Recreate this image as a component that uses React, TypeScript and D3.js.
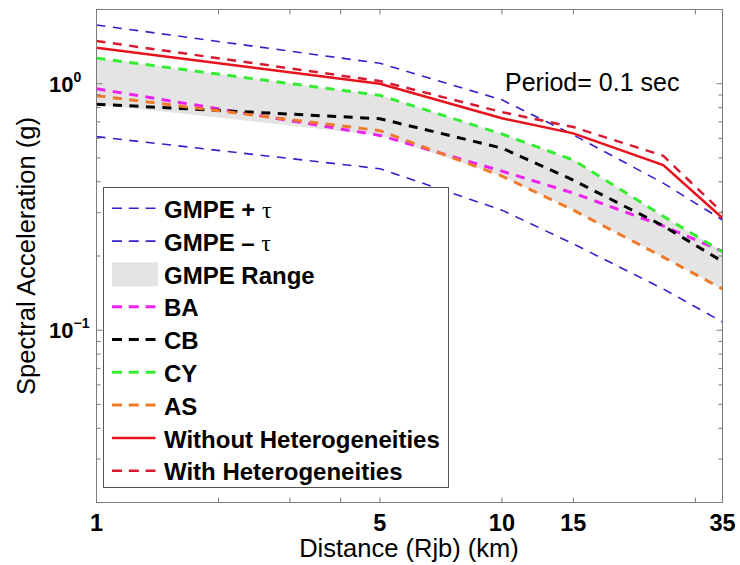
import React from 'react';
import * as d3 from 'd3';

// ---- data ----
const distances = [1, 5, 10, 15, 25, 35];
const gmpePlusTau = [1.73, 1.21, 0.86, 0.62, 0.395, 0.28];
const gmpeMinusTau = [0.61, 0.452, 0.307, 0.224, 0.147, 0.108];
const ba = [0.954, 0.617, 0.442, 0.36, 0.265, 0.209];
const cb = [0.826, 0.721, 0.548, 0.406, 0.265, 0.19];
const cy = [1.27, 0.897, 0.625, 0.49, 0.29, 0.208];
const as = [0.894, 0.645, 0.422, 0.307, 0.198, 0.147];
const withoutHet = [1.4, 1.0, 0.724, 0.629, 0.468, 0.285];
const withHet = [1.49, 1.025, 0.767, 0.667, 0.51, 0.3];

const xTickValues = [1, 2, 3, 4, 5, 10, 15, 30, 35];
const xTickLabels = ['1', '', '', '', '5', '10', '15', '', '35'];
const yMajorTicks = [0.1, 1];
const yMajorExponents = ['\u22121', '0'];
const xTitle = 'Distance (Rjb) (km)';
const yTitle = 'Spectral Acceleration (g)';
const periodLabel = 'Period= 0.1 sec';

type Entry = { key: string; label: string; tau?: string; values?: number[]; band?: boolean };
const entries: Entry[] = [
  { key: 'plus', label: 'GMPE + ', tau: '\u03C4', values: gmpePlusTau },
  { key: 'minus', label: 'GMPE \u2013 ', tau: '\u03C4', values: gmpeMinusTau },
  { key: 'range', label: 'GMPE Range', band: true },
  { key: 'ba', label: 'BA', values: ba },
  { key: 'cb', label: 'CB', values: cb },
  { key: 'cy', label: 'CY', values: cy },
  { key: 'as', label: 'AS', values: as },
  { key: 'without', label: 'Without Heterogeneities', values: withoutHet },
  { key: 'with', label: 'With Heterogeneities', values: withHet },
];

const styles: Record<string, { color: string; width: number; dash?: string }> = {
  plus: { color: '#3322cc', width: 1.6, dash: '9,7.5' },
  minus: { color: '#3322cc', width: 1.6, dash: '9,7.5' },
  range: { color: '#e4e4e4', width: 0 },
  ba: { color: '#ee22ee', width: 3, dash: '9,7.5' },
  cb: { color: '#000000', width: 3, dash: '9,7.5' },
  cy: { color: '#33ee33', width: 3, dash: '9,7.5' },
  as: { color: '#ee7a2a', width: 3, dash: '9,7.5' },
  without: { color: '#e8121c', width: 2.5 },
  with: { color: '#d81a30', width: 2.5, dash: '9,7.5' },
};

const W = 740;
const H = 565;
const L = 96.5, R = 722.5, T = 9.5, B = 502.5;
const FONT = '"Liberation Sans", Arial, Helvetica, sans-serif';

export default function App() {
  const x = d3.scaleLog().domain([1, 35]).range([L, R]);
  const y = d3.scaleLog().domain([0.02, 2]).range([B, T]);

  const line = d3
    .line<number>()
    .x((_, i) => x(distances[i]))
    .y((d) => y(d));

  const models = [ba, cb, cy, as];
  const area = d3
    .area<number>()
    .x((d) => x(d))
    .y0((_, i) => y(d3.min(models, (m) => m[i]) as number))
    .y1((_, i) => y(d3.max(models, (m) => m[i]) as number));

  const yTicks = y.ticks();
  const frame = '#7a7a7a';

  const legX = 103.5, legY = 187.5, legW = 345, legH = 300;
  const rowY0 = 209.3, rowStep = 32.8;

  return (
    <svg width={W} height={H} style={{ position: 'absolute', left: 0, top: 0, background: '#fff' }}>
      <rect x={0} y={0} width={W} height={H} fill="#fff" />
      <defs>
        <clipPath id="plotclip">
          <rect x={L} y={T} width={R - L} height={B - T} />
        </clipPath>
      </defs>
      <g clipPath="url(#plotclip)">
        <path d={area(distances) || ''} fill={styles.range.color} stroke="none" />
        {entries
          .filter((e) => e.values)
          .map((e) => (
            <path
              key={e.key}
              d={line(e.values as number[]) || ''}
              fill="none"
              stroke={styles[e.key].color}
              strokeWidth={styles[e.key].width}
              strokeDasharray={styles[e.key].dash}
            />
          ))}
      </g>

      {/* frame */}
      <rect x={L} y={T} width={R - L} height={B - T} fill="none" stroke={frame} strokeWidth={1} />

      {/* x ticks */}
      {xTickValues.map((v, i) => (
        <g key={'xt' + i}>
          <line x1={x(v)} x2={x(v)} y1={B} y2={B - 5} stroke={frame} />
          <line x1={x(v)} x2={x(v)} y1={T} y2={T + 5} stroke={frame} />
          {xTickLabels[i] && (
            <text
              x={x(v)}
              y={531}
              textAnchor="middle"
              fontFamily={FONT}
              fontWeight="bold"
              fontSize={23.5}
              fill="#000"
            >
              {xTickLabels[i]}
            </text>
          )}
        </g>
      ))}

      {/* y ticks */}
      {yTicks.map((v, i) => {
        const major = yMajorTicks.some((m) => Math.abs(m - v) < 1e-9);
        const len = major ? 6 : 4;
        return (
          <g key={'yt' + i}>
            <line x1={L} x2={L + len} y1={y(v)} y2={y(v)} stroke={frame} />
            <line x1={R} x2={R - len} y1={y(v)} y2={y(v)} stroke={frame} />
          </g>
        );
      })}
      {yMajorTicks.map((v, i) => (
        <text key={'yl' + i} x={49} y={y(v) + 8} fontFamily={FONT} fontWeight="bold" fontSize={22} fill="#000">
          10
          <tspan dy={-10} fontSize={14}>
            {yMajorExponents[i]}
          </tspan>
        </text>
      ))}

      {/* axis titles */}
      <text x={409} y={557} textAnchor="middle" fontFamily={FONT} fontSize={25.5} fill="#000">
        {xTitle}
      </text>
      <text
        transform={`translate(35,256) rotate(-90)`}
        textAnchor="middle"
        fontFamily={FONT}
        fontSize={25.5}
        fill="#000"
      >
        {yTitle}
      </text>

      {/* annotation */}
      <text x={505} y={91} fontFamily={FONT} fontSize={25} fill="#000">
        {periodLabel}
      </text>

      {/* legend */}
      <rect x={legX} y={legY} width={legW} height={legH} fill="#fff" stroke="#555" strokeWidth={1} />
      {entries.map((e, i) => {
        const cyy = rowY0 + i * rowStep;
        const st = styles[e.key];
        return (
          <g key={'lg' + e.key}>
            {e.band ? (
              <rect x={112} y={cyy - 12.5} width={46} height={24} fill={st.color} />
            ) : (
              <line
                x1={112}
                x2={155.5}
                y1={cyy - 1}
                y2={cyy - 1}
                stroke={st.color}
                strokeWidth={st.width}
                strokeDasharray={st.dash ? '10,6.8' : undefined}
              />
            )}
            <text x={164} y={cyy + 8.6} fontFamily={FONT} fontWeight="bold" fontSize={24} fill="#000">
              {e.label}
              {e.tau && (
                <tspan fontFamily='"Liberation Serif", "Times New Roman", serif' fontWeight="normal">
                  {e.tau}
                </tspan>
              )}
            </text>
          </g>
        );
      })}
    </svg>
  );
}
